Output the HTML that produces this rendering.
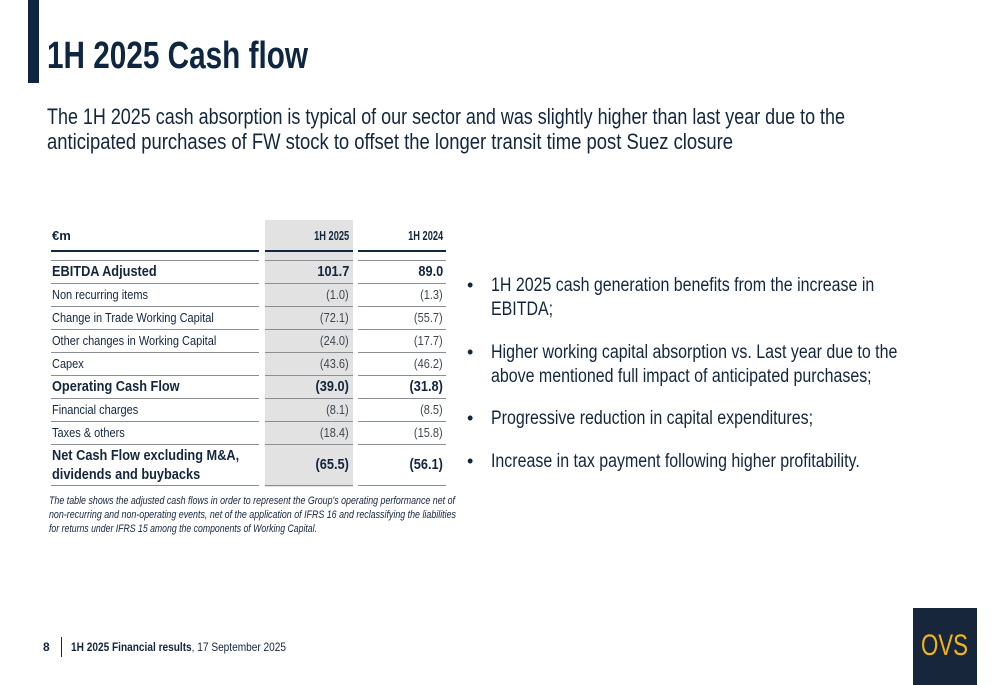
<!DOCTYPE html>
<html><head><meta charset="utf-8">
<style>
body{margin:0;width:1000px;height:685px;background:#fff;position:relative;overflow:hidden;font-family:"Liberation Sans",sans-serif;color:#13263d}
.t{position:absolute;white-space:nowrap;transform-origin:0 0}
.r{transform-origin:100% 0;text-align:right}
.ln{position:absolute;background:#8a8f96;height:1px}
</style></head><body>
<div style="position:absolute;left:28px;top:0;width:11px;height:83px;background:#0f2640"></div>
<div class="t" data-w="261" style="left:47px;top:35px;font-size:38px;font-weight:bold;color:#0f2640">1H 2025 Cash flow</div>
<div class="t" data-w="798" style="left:47px;top:104px;font-size:22px">The 1H 2025 cash absorption is typical of our sector and was slightly higher than last year due to the</div>
<div class="t" data-w="686" style="left:47px;top:129px;font-size:22px">anticipated purchases of FW stock to offset the longer transit time post Suez closure</div>

<div style="position:absolute;left:265px;top:220px;width:88px;height:267px;background:#e2e2e2"></div>
<div class="t" style="left:52px;top:228px;font-size:13px;font-weight:bold">€m</div>
<div class="t r" data-w="35" style="right:651px;top:228px;font-size:13px;font-weight:bold">1H 2025</div>
<div class="t r" data-w="35" style="right:557px;top:228px;font-size:13px;font-weight:bold">1H 2024</div>
<div id="rows"></div>

<div class="t" data-w="406" style="left:49px;top:495px;font-size:11px;font-style:italic">The table shows the adjusted cash flows in order to represent the Group's operating performance net of</div>
<div class="t" data-w="407" style="left:49px;top:509px;font-size:11px;font-style:italic">non-recurring and non-operating events, net of the application of IFRS 16 and reclassifying the liabilities</div>
<div class="t" data-w="268" style="left:49px;top:523px;font-size:11px;font-style:italic">for returns under IFRS 15 among the components of Working Capital.</div>

<div id="bullets"></div>

<div class="t" style="left:43px;top:640px;font-size:12px;font-weight:bold">8</div>
<div style="position:absolute;left:61px;top:637px;width:1px;height:20px;background:#13263d"></div>
<div class="t" data-w="215" style="left:71px;top:640px;font-size:12px"><b>1H 2025 Financial results</b>, 17 September 2025</div>
<div style="position:absolute;left:913px;top:608px;width:64px;height:77px;background:#17263a"></div>
<div class="t" data-w="47" style="left:921px;top:629px;font-size:30px;color:#f2b419">OVS</div>

<script>
const labels=["EBITDA Adjusted","Non recurring items","Change in Trade Working Capital","Other changes in Working Capital","Capex","Operating Cash Flow","Financial charges","Taxes & others","Net Cash Flow excluding M&A,|dividends and buybacks"];
const v2025=["101.7","(1.0)","(72.1)","(24.0)","(43.6)","(39.0)","(8.1)","(18.4)","(65.5)"];
const v2024=["89.0","(1.3)","(55.7)","(17.7)","(46.2)","(31.8)","(8.5)","(15.8)","(56.1)"];
const bold=[1,0,0,0,0,1,0,0,1];
const bullets=[["1H 2025 cash generation benefits from the increase in","EBITDA;"],["Higher working capital absorption vs. Last year due to the","above mentioned full impact of anticipated purchases;"],["Progressive reduction in capital expenditures;"],["Increase in tax payment following higher profitability."]];
const R=document.getElementById('rows');
function seg(x,w,y,h,c,name){const d=document.createElement('div');d.className='ln';d.style.cssText+=`left:${x}px;width:${w}px;top:${y}px;height:${h}px;background:${c}`;


R.appendChild(d);}
function rule(y,h,c,name){seg(51,208,y,h,c,name);seg(265,88,y,h,c,name);seg(358,88,y,h,c,name);}
rule(250,2,'#13263d','header-rule');
rule(260,1,'#8a8f96','row-rule');
let y=261;
labels.forEach((l,i)=>{
 const h=i==8?41:23;const big=bold[i];
 const fs=big?14.5:12.5;
 const parts=l.split('|');
 parts.forEach((p,k)=>{const d=document.createElement('div');d.className='t';d.textContent=p;
  const ty=parts.length>1?y+3+k*19:y+(h-fs*1.15)/2;
  d.style.cssText=`left:52px;top:${ty}px;font-size:${fs}px;font-weight:${big?'bold':'normal'}`;
  
  
  R.appendChild(d);});
 [[v2025[i],651],[v2024[i],557]].forEach(([v,r])=>{const d=document.createElement('div');d.className='t r';d.textContent=v;
  d.style.cssText=`right:${r}px;top:${y+(h-fs*1.15)/2}px;font-size:${fs}px;font-weight:${big?'bold':'normal'};color:${big?'#13263d':'#3e4650'}`;
  
  
  R.appendChild(d);});
 y+=h;rule(y-1,1,'#8a8f96','row-rule');
});
const B=document.getElementById('bullets');
const by=[275,342,408,451];
bullets.forEach((b,i)=>{
 const dot=document.createElement('div');dot.className='t';dot.textContent='•';dot.style.cssText=`left:467px;top:${by[i]}px;font-size:18px`;
 
 
 B.appendChild(dot);
 b.forEach((line,k)=>{const d=document.createElement('div');d.className='t';d.textContent=line;
  d.style.cssText=`left:491px;top:${by[i]+k*24}px;font-size:19px`;
  
  
  d.dataset.cw='0.84';B.appendChild(d);});
});
document.querySelectorAll('[data-w]').forEach(e=>{const w=e.getBoundingClientRect().width;e.style.transform=`scaleX(${(+e.dataset.w)/w})`;});
document.querySelectorAll('[data-cw]').forEach(e=>{e.style.transform=`scaleX(${e.dataset.cw})`;});
document.querySelectorAll('#rows .t').forEach(e=>{e.style.transform='scaleX(0.88)';});
</script>
</body></html>
